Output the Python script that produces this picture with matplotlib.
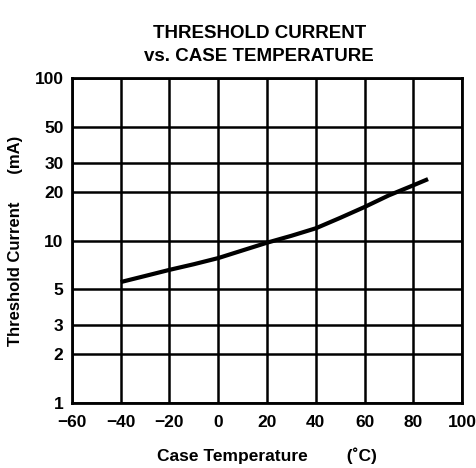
import numpy as np
import matplotlib.pyplot as plt

# data
temp = [-40, -30, -20, -10, 0, 10, 20, 30, 40, 50, 60, 70, 80, 86]
ith = [5.55, 6.05, 6.6, 7.15, 7.8, 8.7, 9.7, 10.7, 11.9, 13.8, 16.1, 19.0, 21.9, 23.9]

xticks = [-60, -40, -20, 0, 20, 40, 60, 80, 100]
xticklabels = ['\u221260', '\u221240', '\u221220', '0', '20', '40', '60', '80', '100']
yticks = [1, 2, 3, 5, 10, 20, 30, 50, 100]

plt.rcParams['font.family'] = ['Liberation Sans', 'DejaVu Sans']
plt.rcParams['font.weight'] = 'bold'

fig = plt.figure(figsize=(4.76, 4.68), dpi=100)
ax = fig.add_axes([0.151, 0.139, 0.82, 0.694])

ax.set_yscale('log')
ax.set_xlim(-60, 100)
ax.set_ylim(1, 100)

ax.set_xticks(xticks)
ax.set_xticklabels(xticklabels, fontsize=12.5, fontweight='bold')
ax.set_yticks(yticks)
ax.set_yticklabels([str(v) for v in yticks], fontsize=12.5, fontweight='bold')
ax.yaxis.set_minor_locator(plt.NullLocator())
ax.tick_params(axis='y', length=0, pad=6)
ax.tick_params(axis='x', length=0, pad=9)

ax.grid(True, color='black', linewidth=1.8)
for s in ax.spines.values():
    s.set_linewidth(2)

ax.plot(temp, ith, color='black', linewidth=3, solid_capstyle='butt')

ax.set_xlabel('Case Temperature        (\u02daC)', fontsize=12.5, fontweight='bold', labelpad=12)
ax.set_ylabel('Threshold Current      (mA)', fontsize=12, fontweight='bold', labelpad=8)
ax.set_title('THRESHOLD CURRENT\nvs. CASE TEMPERATURE', fontsize=13.5, fontweight='bold',
             pad=12, linespacing=1.5, x=0.48)

fig.savefig('out.png', dpi=100)
